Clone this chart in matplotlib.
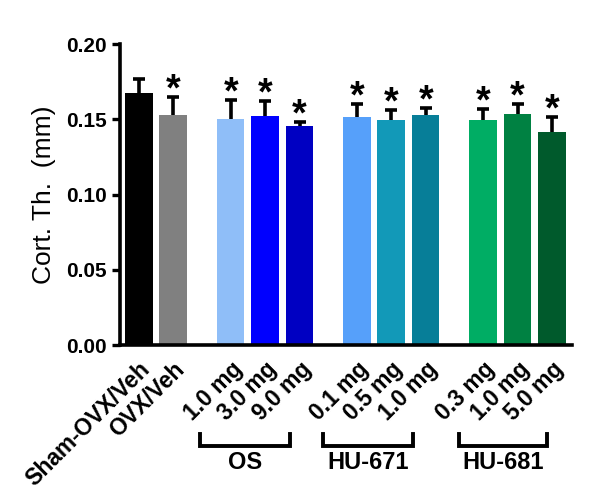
import matplotlib
matplotlib.use("Agg")
import matplotlib.pyplot as plt
import matplotlib.transforms as mtransforms
import numpy as np

plt.rcParams['font.family'] = ['Liberation Sans', 'DejaVu Sans']

labels = ['Sham-OVX/Veh', 'OVX/Veh',
          '1.0 mg', '3.0 mg', '9.0 mg',
          '0.1 mg', '0.5 mg', '1.0 mg',
          '0.3 mg', '1.0 mg', '5.0 mg']
means = [0.1674, 0.153, 0.150, 0.152, 0.1455,
         0.1513, 0.1493, 0.153,
         0.1493, 0.1533, 0.1415]
sems = [0.0095, 0.012, 0.013, 0.010, 0.003,
        0.009, 0.007, 0.0047,
        0.0073, 0.0067, 0.010]
signif = [False, True, True, True, True, True, True, True, True, True, True]
colors = ['#000000', '#808080',
          '#8fbef8', '#0000ff', '#0000c2',
          '#56a0fa', '#1299b8', '#077e98',
          '#00ad64', '#008142', '#005a2c']
positions = [0, 1, 2.67, 3.67, 4.67, 6.33, 7.33, 8.33, 10, 11, 12]

groups = ['OS', 'HU-671', 'HU-681']
group_span = [(1.78, 4.39), (5.35, 7.96), (9.29, 11.86)]

fig = plt.figure(figsize=(5.99, 4.99), dpi=100)
ax = fig.add_axes([0.2003, 0.3086, 0.7547, 0.6032])

# error bars go behind the bars so only the upper half shows
ax.errorbar(positions, means, yerr=sems, fmt='none',
            ecolor='black', elinewidth=2.6, capsize=4, capthick=2.6, zorder=1)
ax.bar(positions, means, width=0.8, color=colors, edgecolor='none', zorder=2)

for x, m, s, sig in zip(positions, means, sems, signif):
    if sig:
        ax.text(x, m + s - 0.0077, '*', ha='center', va='bottom',
                fontsize=27, fontweight='bold')

ax.set_xlim(-0.545, 12.58)
ax.set_ylim(0, 0.20)
ax.set_yticks([0, 0.05, 0.10, 0.15, 0.20])
ax.set_yticklabels(['0.00', '0.05', '0.10', '0.15', '0.20'],
                   fontsize=15, fontweight='bold')
ax.set_ylabel('Cort. Th.  (mm)', fontsize=19, labelpad=7)

ax.set_xticks(positions)
ax.set_xticklabels(labels, rotation=45, ha='right', rotation_mode='anchor',
                   fontsize=16.5, fontweight='bold')
ax.tick_params(axis='x', length=0, pad=9)
ax.tick_params(axis='y', length=6, width=2.4, direction='out')

for side in ['top', 'right']:
    ax.spines[side].set_visible(False)
for side in ['left', 'bottom']:
    ax.spines[side].set_linewidth(2.6)

trans = mtransforms.blended_transform_factory(ax.transData, ax.transAxes)
for name, (x0, x1) in zip(groups, group_span):
    ax.plot([x0, x0, x1, x1], [-0.296, -0.3355, -0.3355, -0.296],
            color='black', lw=2.8, transform=trans, clip_on=False,
            solid_joinstyle='miter')
    ax.text((x0 + x1) / 2, -0.392, name, transform=trans, ha='center',
            va='center', fontsize=17, fontweight='bold')

fig.savefig('out.png', dpi=100)
